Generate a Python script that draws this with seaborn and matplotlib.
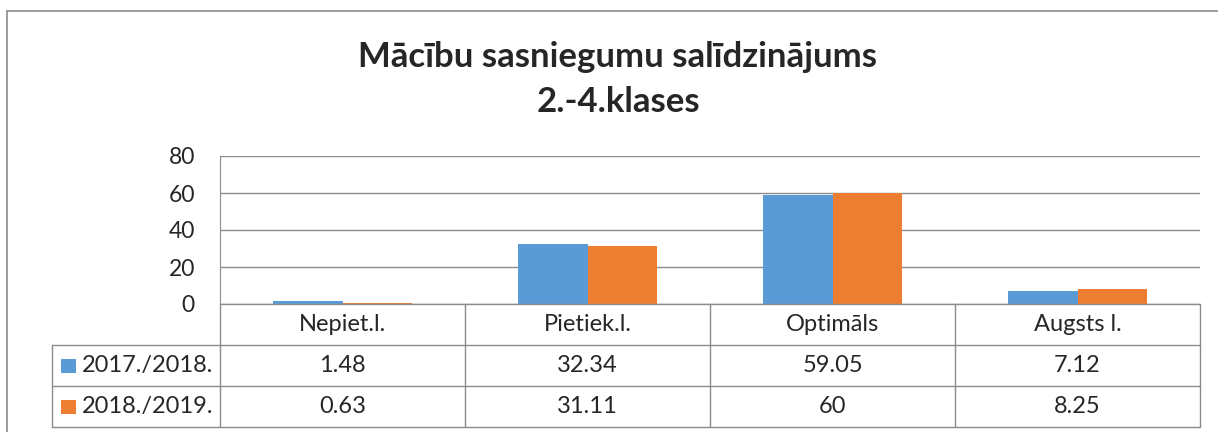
import pandas as pd
import matplotlib.pyplot as plt
import matplotlib.transforms as mtransforms
from matplotlib.lines import Line2D
from matplotlib.patches import Rectangle
import seaborn as sns

# Chart data
categories = ['Nepiet.l.', 'Pietiek.l.', 'Optimāls', 'Augsts l.']
years = ['2017./2018.', '2018./2019.']
vals_2017 = [1.48, 32.34, 59.05, 7.12]
vals_2018 = [0.63, 31.11, 60, 8.25]
colors = ['#5B9BD5', '#ED7D31']

df = pd.DataFrame({
    'category': categories * 2,
    'year': [years[0]] * 4 + [years[1]] * 4,
    'value': vals_2017 + vals_2018,
})

W, H = 1218, 432
sns.set_style('white')
plt.rcParams['font.family'] = ['Lato', 'DejaVu Sans']

fig = plt.figure(figsize=(W / 100, H / 100), dpi=100)
ax = fig.add_axes([220 / W, 1 - 304 / H, 980 / W, 148 / H])

sns.barplot(data=df, x='category', y='value', hue='year', palette=colors,
            width=0.571, linewidth=0, saturation=1, ax=ax, legend=False)

ax.set_xlim(-0.5, 3.5)
ax.set_ylim(0, 80)
ax.set_yticks([0, 20, 40, 60, 80])
ax.set_yticklabels(['0', '20', '40', '60', '80'], fontsize=16.5)
ax.tick_params(axis='y', length=0, pad=18)
ax.set_xticks([])
ax.set_xlabel('')
ax.set_ylabel('')
ax.yaxis.grid(True, color='#8C8C8C', linewidth=1)
ax.set_axisbelow(True)
for s in ['top', 'right', 'bottom']:
    ax.spines[s].set_visible(False)
ax.spines['left'].set_color('#8C8C8C')

# Title
fig.text(618 / W, 1 - 57 / H, 'Mācību sasniegumu salīdzinājums', ha='center', va='center',
         fontsize=25, fontweight='bold')
fig.text(618 / W, 1 - 102 / H, '2.-4.klases', ha='center', va='center',
         fontsize=25, fontweight='bold')

# Outer chart border
fig.add_artist(Rectangle((7 / W, -0.1), 1.2, 1 - 11 / H + 0.1, transform=fig.transFigure,
                         fill=False, edgecolor='#8C8C8C', linewidth=1.2))

# Data table below the plot
lc = '#8C8C8C'
def fy(py):
    return 1 - py / H

rows = [304, 345, 386, 427]
fig.add_artist(Line2D([220 / W, 1200 / W], [fy(304)] * 2, color=lc, lw=1))
for r in rows[1:]:
    fig.add_artist(Line2D([52 / W, 1200 / W], [fy(r)] * 2, color=lc, lw=1))
for cx in [220, 465, 710, 955, 1200]:
    fig.add_artist(Line2D([cx / W] * 2, [fy(304), fy(427)], color=lc, lw=1))
fig.add_artist(Line2D([52 / W] * 2, [fy(345), fy(427)], color=lc, lw=1))

fs = 17
trans = mtransforms.blended_transform_factory(ax.transData, fig.transFigure)
row_mid = [(rows[i] + rows[i + 1]) / 2 for i in range(3)]
for i, cat in enumerate(categories):
    fig.text(i, fy(row_mid[0]), cat, transform=trans, ha='center', va='center', fontsize=fs)
    fig.text(i, fy(row_mid[1]), f'{vals_2017[i]:g}', transform=trans, ha='center', va='center', fontsize=fs)
    fig.text(i, fy(row_mid[2]), f'{vals_2018[i]:g}', transform=trans, ha='center', va='center', fontsize=fs)

for j, yr in enumerate(years):
    ym = row_mid[j + 1]
    fig.add_artist(Rectangle((61 / W, fy(ym + 7)), 15 / W, 14 / H, transform=fig.transFigure,
                             facecolor=colors[j], edgecolor='none'))
    fig.text(82 / W, fy(ym), yr, ha='left', va='center', fontsize=fs)

fig.savefig('out.png', dpi=100)
